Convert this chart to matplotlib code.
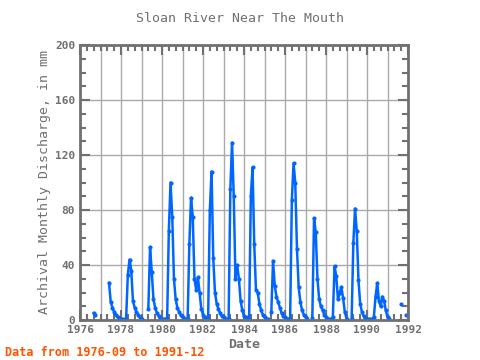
import numpy as np
import matplotlib
matplotlib.use('Agg')
from matplotlib import pyplot as plt
from matplotlib.ticker import MultipleLocator

nan = np.nan
# monthly discharge (mm), Jan..Dec for each year
years = list(range(1976, 1992))
q1976 = [nan, nan, nan, nan, nan, nan, nan, nan, 5, 3.5, nan, nan]
q1977 = [nan, nan, nan, nan, nan, 27, 13, 9, 6, 4, 2.5, 1.5]
q1978 = [0.8, 0.5, 0.3, 1, 33, 44, 36, 14, 9, 6, 4, 2]
q1979 = [1, nan, nan, nan, 8, 53, 35, 15, 9, 5, 3, 1.5]
q1980 = [0.8, 0.5, 0.4, 0.5, 65, 100, 75, 30, 15, 9, 6, 3.5]
q1981 = [2, 1, 0.5, 0.5, 55, 89, 75, 30, 22, 31, 20, 8]
q1982 = [4, 2, 1, 1, 80, 108, 45, 20, 12, 8, 5, 3]
q1983 = [2, 1, 0.5, 1, 95, 129, 90, 30, 40, 30, 14, 7]
q1984 = [3, 2, 1, 1, 90, 111, 55, 22, 20, 12, 7, 4]
q1985 = [2, 1, 0.5, nan, 6, 43, 25, 17, 13, 9, 5, 3]
q1986 = [2, 1, 0.5, 0.5, 87, 114, 100, 52, 24, 13, 7, 4]
q1987 = [2, 1, nan, nan, 1.5, 74, 64, 30, 15, 10, 7, 4]
q1988 = [2, 1, 0.5, 0.5, 2, 39, 32, 15, 20, 24, 16, 6]
q1989 = [1, nan, nan, 0.5, 56, 81, 65, 29, 12, 6, 3, 1.5]
q1990 = [1, 0.5, 0.5, 0.5, 2, 17, 27, 14, 10, 17, 14, 7]
q1991 = [2, 0.5, nan, nan, nan, nan, nan, nan, 12, nan, nan, 4]

series = [q1976, q1977, q1978, q1979, q1980, q1981, q1982, q1983,
          q1984, q1985, q1986, q1987, q1988, q1989, q1990, q1991]
vals = np.array([v for yr in series for v in yr], dtype=float)
dates = np.array([y + m / 12.0 for y in years for m in range(12)])

grey = '#707070'
fig = plt.figure(figsize=(4.8, 3.6), dpi=100)
ax = fig.add_axes([80/480, 40/360, 328/480, 275/360])

ax.plot(dates, vals, color='#0066ff', lw=1.8, marker='o', ms=3, mew=0)

ax.set_xlim(1976, 1992)
ax.set_ylim(0, 200)
ax.xaxis.set_major_locator(MultipleLocator(2))
ax.xaxis.set_minor_locator(MultipleLocator(1/3))
ax.yaxis.set_major_locator(MultipleLocator(40))
ax.yaxis.set_minor_locator(MultipleLocator(10))
for yr in range(1977, 1992):
    ax.axvline(yr, color='#aaaaaa', lw=1, zorder=0)
for v in range(40, 200, 40):
    ax.axhline(v, color='#aaaaaa', lw=1, zorder=0)

ax.tick_params(which='both', direction='in', top=True, right=True, color=grey,
               labelcolor=grey, width=1.5)
ax.tick_params(which='major', length=7, labelsize=8)
ax.tick_params(which='minor', length=4)
for lab in ax.get_xticklabels() + ax.get_yticklabels():
    lab.set_family('DejaVu Sans Mono')
    lab.set_fontweight('bold')
for s in ax.spines.values():
    s.set_color(grey)
    s.set_linewidth(2)

fig.text(0.5, 1 - 18/360, 'Sloan River Near The Mouth', ha='center', va='center',
         family='DejaVu Sans Mono', fontsize=9.5, color=grey)
ax.set_xlabel('Date', family='DejaVu Sans Mono', fontsize=9.5, fontweight='bold', color=grey, labelpad=2)
ax.set_ylabel('Archival Monthly Discharge, in mm', family='DejaVu Sans Mono', fontsize=9.5,
              color=grey, labelpad=3)
fig.text(5/480, 1 - 352/360, 'Data from 1976-09 to 1991-12', ha='left', va='center',
         family='DejaVu Sans Mono', fontsize=8.5, fontweight='bold', color='#ff5500')

fig.savefig('out.png', dpi=100)
